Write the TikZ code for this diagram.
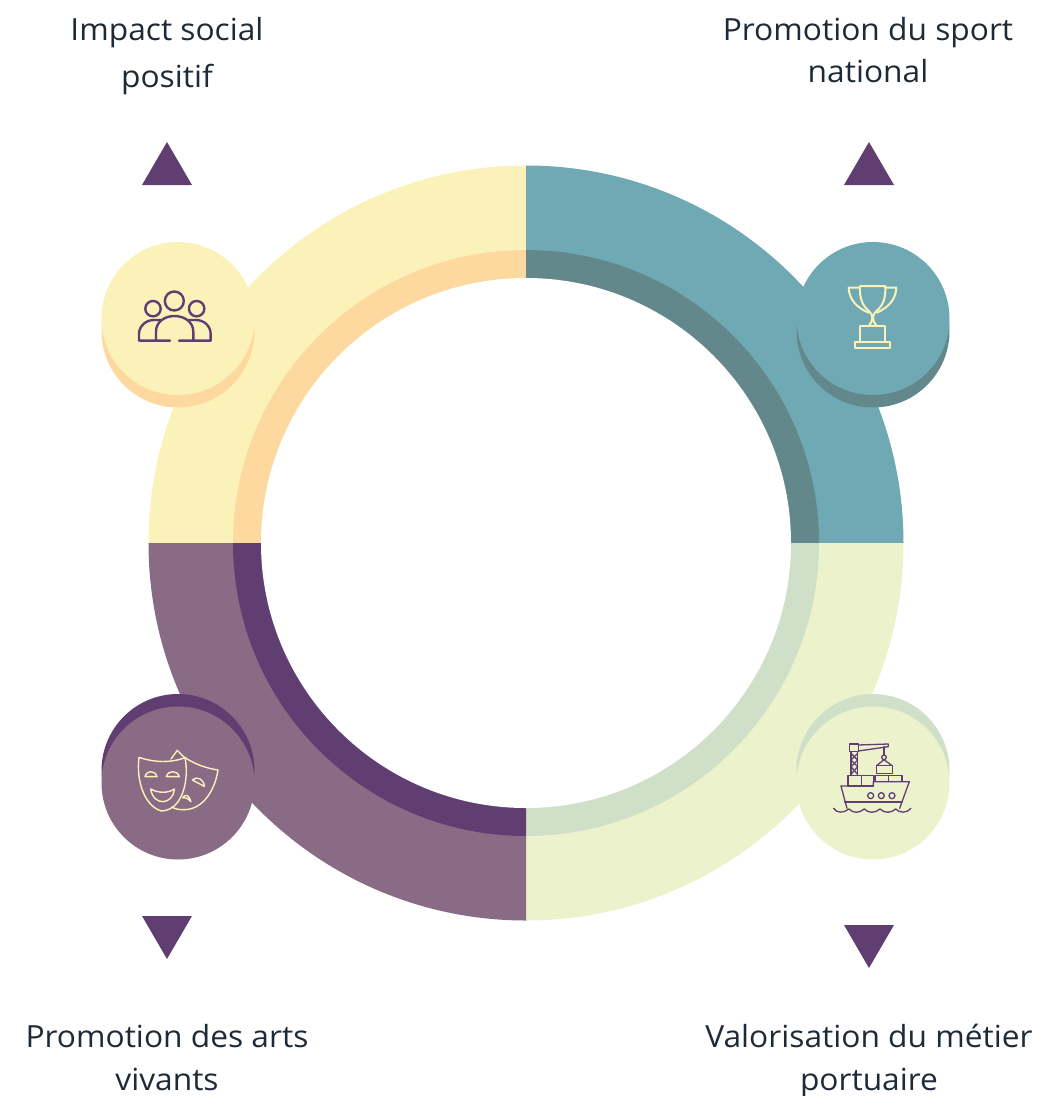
\documentclass[tikz,border=0pt]{standalone}
\usepackage{fontspec}
\setmainfont[FakeStretch=1.04]{Open Sans}
\definecolor{yel}{HTML}{FBF2B9}
\definecolor{yeld}{HTML}{FDD9A0}
\definecolor{tea}{HTML}{6EA9B4}
\definecolor{tead}{HTML}{63888C}
\definecolor{pur}{HTML}{8A6B85}
\definecolor{purd}{HTML}{613E72}
\definecolor{lim}{HTML}{ECF2CB}
\definecolor{limd}{HTML}{D0E0C8}
\definecolor{ink}{HTML}{1F2A37}
\tikzset{
 lab/.style={inner sep=0pt,text=ink,font=\fontsize{30.5}{32}\selectfont,anchor=base},
 ico/.style={line join=round,line cap=round,fill=none},
 zoomA/.style={shift={(90,230)},x=0.3333pt,y=-0.3333pt},
 zoomB/.style={shift={(785,230)},x=0.3333pt,y=-0.3333pt},
 zoomC/.style={shift={(90,685)},x=0.3333pt,y=-0.3333pt},
 zoomD/.style={shift={(785,685)},x=0.3333pt,y=-0.3333pt}
}
\begin{document}
\begin{tikzpicture}[x=1pt,y=-1pt]
\useasboundingbox (0,0) rectangle (1058,1096);
\coordinate (c) at (526,543);
% quadrants: outer ring
\fill[yel] (148.5,543) arc[start angle=180,end angle=90,radius=377.5pt] -- (526,543) -- cycle;
\fill[tea] (526,165.5) arc[start angle=90,end angle=0,radius=377.5pt] -- (526,543) -- cycle;
\fill[lim] (903.5,543) arc[start angle=0,end angle=-90,radius=377.5pt] -- (526,543) -- cycle;
\fill[pur] (526,920.5) arc[start angle=-90,end angle=-180,radius=377.5pt] -- (526,543) -- cycle;
% inner darker ring
\fill[yeld] (233,543) arc[start angle=180,end angle=90,radius=293pt] -- (526,543) -- cycle;
\fill[tead] (526,250) arc[start angle=90,end angle=0,radius=293pt] -- (526,543) -- cycle;
\fill[limd] (819,543) arc[start angle=0,end angle=-90,radius=293pt] -- (526,543) -- cycle;
\fill[purd] (526,836) arc[start angle=-90,end angle=-180,radius=293pt] -- (526,543) -- cycle;
\fill[white] (526,543) circle[radius=265pt];
% badges
\fill[yeld] (178,331) circle[radius=76.5pt];
\fill[yel] (178,318.5) circle[radius=76.5pt];
\fill[tead] (873,331) circle[radius=76.5pt];
\fill[tea] (873,318.5) circle[radius=76.5pt];
\fill[purd] (178,770.5) circle[radius=76.5pt];
\fill[pur] (178,783) circle[radius=76.5pt];
\fill[limd] (873,770.5) circle[radius=76.5pt];
\fill[lim] (873,783) circle[radius=76.5pt];
% triangles
\fill[purd] (167,142) -- (192,185) -- (142,185) -- cycle;
\fill[purd] (869,142) -- (894,185) -- (844,185) -- cycle;
\fill[purd] (167,959) -- (192,916) -- (142,916) -- cycle;
\fill[purd] (869,968) -- (894,925) -- (844,925) -- cycle;
% people icon
\begin{scope}[zoomA,ico,draw=purd,line width=2.4pt]
\draw (253,213) circle[radius=9.5pt];
\draw (189,236) circle[radius=7.7pt];
\draw (320,236) circle[radius=7.7pt];
\draw (240,332) -- (198,332) -- (198,305) .. controls (198,275) and (225,258) .. (253,258) .. controls (282,258) and (310,275) .. (310,305) -- (310,332) -- (267,332);
\draw (198,332) -- (147,332) -- (147,312) .. controls (147,288) and (168,270) .. (192,270) -- (212,270);
\draw (310,332) -- (362,332) -- (362,312) .. controls (362,288) and (342,270) .. (318,270) -- (296,270);
\end{scope}
% trophy icon
\begin{scope}[zoomB,ico,draw=yel,line width=2pt]
\draw (225,168) -- (301,168) .. controls (303,205) and (293,225) .. (280,238) .. controls (268,248) and (264,255) .. (264,262) .. controls (264,272) and (268,280) .. (275,288) -- (251,288) .. controls (258,280) and (262,272) .. (262,262) .. controls (262,255) and (258,248) .. (246,238) .. controls (233,225) and (223,205) .. (225,168);
\draw (225,173) -- (191,173) .. controls (193,210) and (215,232) .. (250,248);
\draw (301,173) -- (334,173) .. controls (332,210) and (310,232) .. (276,248);
\draw (226,288) rectangle (300,336);
\draw (209,336) rectangle (316,355);
\end{scope}
% masks icon
\begin{scope}[zoomC,ico,draw=yel,line width=1.4pt]
\draw (147,217) .. controls (190,232) and (240,235) .. (285,218) .. controls (298,280) and (280,375) .. (215,378) .. controls (165,365) and (138,290) .. (147,217);
\draw (243,222) -- (262,196) -- (282,216) .. controls (315,238) and (350,250) .. (384,255) .. controls (375,315) and (340,372) .. (285,374) .. controls (270,375) and (255,372) .. (245,366);
\draw (165,275) .. controls (170,255) and (195,255) .. (201,275) -- cycle;
\draw (229,275) .. controls (234,255) and (262,255) .. (268,275) -- cycle;
\draw (182,312) .. controls (205,325) and (235,325) .. (253,312) .. controls (250,360) and (190,365) .. (182,312) -- cycle;
\draw (307,285) .. controls (320,272) and (342,282) .. (343,304) -- cycle;
\draw (278,338) .. controls (288,325) and (296,330) .. (303,350) .. controls (292,340) and (285,335) .. (278,338);
\end{scope}
% ship icon
\begin{scope}[zoomD,ico,draw=purd,line width=1.3pt]
\draw (168,303) -- (265,303) -- (265,290) -- (373,290) -- (344,370);
\draw (168,303) -- (186,370);
\draw (179,351) -- (351,351);
\draw (257,332) circle[radius=3pt];
\draw (289,332) circle[radius=3pt];
\draw (321,332) circle[radius=3pt];
\draw (189,272) rectangle (229,303);
\draw (229,272) rectangle (265,303);
\draw (270,272) rectangle (310,290);
\draw (310,272) rectangle (351,290);
\draw (198,200) -- (198,272);
\draw (218,200) -- (218,272);
\draw (198,205) -- (218,225) -- (198,245) -- (218,268);
\draw (218,205) -- (198,225) -- (218,245) -- (198,268);
\draw (193,177) rectangle (220,200);
\draw (220,180) -- (310,177) -- (310,185) -- (220,198);
\draw (297,185) -- (297,210);
\draw (297,217) circle[radius=2.3pt];
\draw (297,224) -- (276,241);
\draw (297,224) -- (320,241);
\draw (274,241) rectangle (322,265);
\draw (146,370) .. controls (155,385) and (175,385) .. (192,372) .. controls (205,385) and (222,385) .. (238,372) .. controls (250,385) and (270,385) .. (285,372) .. controls (298,385) and (318,385) .. (332,372) .. controls (345,385) and (365,385) .. (378,370);
\end{scope}
% labels
\node[lab] (l1a) at (167,40) {Impact social};
\node[lab] (l1b) at (167,87) {positif};
\node[lab] (l2a) at (868,40) {Promotion du sport};
\node[lab] (l2b) at (868,82) {national};
\node[lab] (l3a) at (167,1047) {Promotion des arts};
\node[lab] (l3b) at (167,1090) {vivants};
\node[lab] (l4a) at (869,1047) {Valorisation du métier};
\node[lab] (l4b) at (869,1090) {portuaire};
\end{tikzpicture}
\end{document}
